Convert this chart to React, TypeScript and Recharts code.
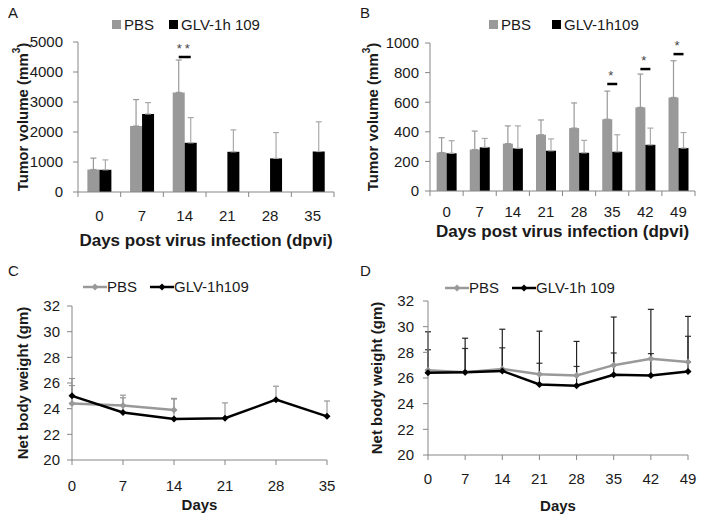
import React from 'react';
import { BarChart, Bar, LineChart, Line, XAxis, YAxis, ErrorBar, Legend, LabelList } from 'recharts';

const FONT = '"Liberation Sans", Arial, sans-serif';
const GRAY = '#999999';
const AXIS = '#868686';
const INK = '#1a1a1a';

// A: tumor volume, first cohort
const daysA = ['0', '7', '14', '21', '28', '35'];
const pbsA = [750, 2200, 3320, null, null, null];
const pbsASd = [380, 880, 1080, null, null, null];
const glvA = [740, 2600, 1640, 1340, 1120, 1350];
const glvASd = [330, 380, 840, 730, 860, 990];
const sigA = [null, null, 4500, null, null, null];

// B: tumor volume, second cohort
const daysB = ['0', '7', '14', '21', '28', '35', '42', '49'];
const pbsB = [260, 280, 320, 380, 425, 485, 565, 632];
const pbsBSd = [100, 125, 120, 100, 170, 190, 225, 248];
const glvB = [255, 295, 288, 272, 258, 265, 312, 290];
const glvBSd = [85, 60, 152, 80, 84, 115, 113, 105];
const sigB = [null, null, null, null, null, 723, 824, 925];

// C: body weight, first cohort
const daysC = [0, 7, 14, 21, 28, 35];
const pbsC = [24.4, 24.25, 23.9, null, null, null];
const pbsCSd = [1.95, 0.8, 0.9, null, null, null];
const glvC = [25.0, 23.7, 23.2, 23.25, 24.7, 23.4];
const glvCSd = [0.8, 1.15, 1.55, 1.2, 1.05, 1.2];

// D: body weight, second cohort
const daysD = [0, 7, 14, 21, 28, 35, 42, 49];
const pbsD = [26.6, 26.45, 26.7, 26.3, 26.2, 27.0, 27.5, 27.25];
const pbsDSd = [1.6, 1.85, 1.65, 0.85, 0.7, 0.95, 0.4, 2.0];
const glvD = [26.4, 26.45, 26.55, 25.5, 25.4, 26.25, 26.2, 26.5];
const glvDSd = [3.2, 2.65, 3.25, 4.15, 3.45, 4.5, 5.15, 4.3];

const upErr = (sd: number | null) => (sd == null ? null : [0, sd]);

const dataA = daysA.map((d, i) => ({ day: d, pbs: pbsA[i], glv: glvA[i], pbsErr: upErr(pbsASd[i]), glvErr: upErr(glvASd[i]) }));
const dataB = daysB.map((d, i) => ({ day: d, pbs: pbsB[i], glv: glvB[i], pbsErr: upErr(pbsBSd[i]), glvErr: upErr(glvBSd[i]) }));
const dataC = daysC.map((d, i) => ({ day: d, pbs: pbsC[i], glv: glvC[i], pbsErr: upErr(pbsCSd[i]), glvErr: upErr(glvCSd[i]) }));
const dataD = daysD.map((d, i) => ({ day: d, pbs: pbsD[i], glv: glvD[i], pbsErr: upErr(pbsDSd[i]), glvErr: upErr(glvDSd[i]) }));

const tickStyle = { fill: INK, fontSize: 15, fontFamily: FONT };
const W = 352;
const H = 258;

function PanelLetter({ letter }: { letter: string }) {
  return (
    <div style={{ position: 'absolute', left: 8, top: 4, fontFamily: FONT, fontSize: 15, color: INK }}>{letter}</div>
  );
}

function yTitle(text: string, x: number, sup?: string) {
  return (props: any) => {
    const vb = props.viewBox;
    const cy = vb.y + vb.height / 2;
    return (
      <text x={x} y={cy} transform={`rotate(-90 ${x} ${cy})`} textAnchor="middle" dominantBaseline="central"
        fontFamily={FONT} fontSize={15} fontWeight="bold" fill={INK}>
        {text}
        {sup ? <tspan dy={-6} fontSize={10}>{sup}</tspan> : null}
        {sup ? <tspan dy={6}>)</tspan> : null}
      </text>
    );
  };
}

function xTitle(text: string, y: number, size = 15) {
  return (props: any) => {
    const vb = props.viewBox;
    return (
      <text x={vb.x + vb.width / 2} y={y} textAnchor="middle" dominantBaseline="central"
        fontFamily={FONT} fontSize={size} fontWeight="bold" fill={INK}>{text}</text>
    );
  };
}

// Excel-style category ticks: label at the group centre, tick marks on the group edges
function groupTick(band: number, margin: number, count: number) {
  return (props: any) => {
    const { x, y, payload, index } = props;
    const axisY = y - margin;
    const half = band / 2;
    return (
      <g key={index}>
        <line x1={x - half} y1={axisY} x2={x - half} y2={axisY + 5} stroke={AXIS} />
        {index === count - 1 ? <line x1={x + half} y1={axisY} x2={x + half} y2={axisY + 5} stroke={AXIS} /> : null}
        <text x={x} y={y} dy="0.71em" textAnchor="middle" {...tickStyle}>{payload.value}</text>
      </g>
    );
  };
}

type Item = { name: string; color: string };

function legendContent(kind: 'box' | 'line', gap: number, items: Item[]) {
  return () => (
    <div style={{ display: 'flex', alignItems: 'center', whiteSpace: 'nowrap', fontFamily: FONT, fontSize: 15, color: INK }}>
      {items.map((p, i) => (
        <div key={i} style={{ display: 'flex', alignItems: 'center', marginLeft: i ? gap : 0 }}>
          {kind === 'box' ? (
            <svg width={9} height={9} style={{ marginRight: 3 }}><rect width={9} height={9} fill={p.color} /></svg>
          ) : (
            <svg width={24} height={10}>
              <line x1={0} y1={5} x2={24} y2={5} stroke={p.color} strokeWidth={2.5} />
              <polygon points="12,1.5 15.5,5 12,8.5 8.5,5" fill={p.color} />
            </svg>
          )}
          <span>{p.name}</span>
        </div>
      ))}
    </div>
  );
}

function sigMark(sig: (number | null)[], stars: string) {
  return (props: any) => {
    const { x, y, width, height, value, index } = props;
    const level = sig[index];
    if (level == null || !value) return null;
    const base = y + height;
    const ly = base - (level * height) / value;
    const x1 = x + width / 2;
    const x2 = x + width * 1.5;
    return (
      <g>
        <line x1={x1} y1={ly} x2={x2} y2={ly} stroke="#000" strokeWidth={2.5} />
        <text x={(x1 + x2) / 2} y={ly - 4} textAnchor="middle" fontFamily={FONT} fontSize={13} letterSpacing={3} fill="#444">{stars}</text>
      </g>
    );
  };
}

function diamond(color: string) {
  return (props: any) => {
    const { cx, cy, index } = props;
    if (cx == null || cy == null || Number.isNaN(cy)) return <g key={index} />;
    return <polygon key={index} points={`${cx},${cy - 3.5} ${cx + 3.5},${cy} ${cx},${cy + 3.5} ${cx - 3.5},${cy}`} fill={color} />;
  };
}

function PanelA() {
  const m = { top: 42, right: 18, bottom: 0, left: 0 };
  const band = (W - 78 - m.right) / daysA.length;
  return (
    <BarChart width={W} height={H} data={dataA} margin={m} barCategoryGap="22%" barGap={0}>
      <XAxis dataKey="day" height={66} axisLine={{ stroke: AXIS }} tickLine={false} tickSize={0} tickMargin={18}
        interval={0} tick={groupTick(band, 18, daysA.length)} label={xTitle('Days post virus infection (dpvi)', 240, 17)} />
      <YAxis domain={[0, 5000]} ticks={[0, 1000, 2000, 3000, 4000, 5000]} width={78} tickSize={5} tickMargin={10}
        axisLine={{ stroke: AXIS }} tickLine={{ stroke: AXIS }} tick={tickStyle} label={yTitle('Tumor volume (mm', 22, '3')} />
      <Legend verticalAlign="middle" align="center" wrapperStyle={{ left: 112, top: 16, width: 'auto' }}
        content={legendContent('box', 15, [{ name: 'PBS', color: GRAY }, { name: 'GLV-1h 109', color: '#000' }])} />
      <Bar dataKey="pbs" name="PBS" fill={GRAY} isAnimationActive={false}>
        <ErrorBar dataKey="pbsErr" width={3} stroke={GRAY} strokeWidth={1.2} direction="y" />
        <LabelList dataKey="pbs" content={sigMark(sigA, '**')} />
      </Bar>
      <Bar dataKey="glv" name="GLV-1h 109" fill="#000000" isAnimationActive={false}>
        <ErrorBar dataKey="glvErr" width={3} stroke="#aaaaaa" strokeWidth={1.2} direction="y" />
      </Bar>
    </BarChart>
  );
}

function PanelB() {
  const m = { top: 43, right: 9, bottom: 0, left: 0 };
  const band = (W - 78 - m.right) / daysB.length;
  return (
    <BarChart width={W} height={H} data={dataB} margin={m} barCategoryGap="20%" barGap={0}>
      <XAxis dataKey="day" height={67} axisLine={{ stroke: AXIS }} tickLine={false} tickSize={0} tickMargin={15}
        interval={0} tick={groupTick(band, 15, daysB.length)} label={xTitle('Days post virus infection (dpvi)', 231, 17)} />
      <YAxis domain={[0, 1000]} ticks={[0, 200, 400, 600, 800, 1000]} width={78} tickSize={5} tickMargin={6}
        axisLine={{ stroke: AXIS }} tickLine={{ stroke: AXIS }} tick={tickStyle} label={yTitle('Tumor volume (mm', 20, '3')} />
      <Legend verticalAlign="middle" align="center" wrapperStyle={{ left: 137, top: 16, width: 'auto' }}
        content={legendContent('box', 21, [{ name: 'PBS', color: GRAY }, { name: 'GLV-1h109', color: '#000' }])} />
      <Bar dataKey="pbs" name="PBS" fill={GRAY} isAnimationActive={false}>
        <ErrorBar dataKey="pbsErr" width={3} stroke={GRAY} strokeWidth={1.2} direction="y" />
        <LabelList dataKey="pbs" content={sigMark(sigB, '*')} />
      </Bar>
      <Bar dataKey="glv" name="GLV-1h109" fill="#000000" isAnimationActive={false}>
        <ErrorBar dataKey="glvErr" width={3} stroke="#aaaaaa" strokeWidth={1.2} direction="y" />
      </Bar>
    </BarChart>
  );
}

function PanelC() {
  return (
    <LineChart width={W} height={H} data={dataC} margin={{ top: 48, right: 25, bottom: 0, left: 0 }}>
      <XAxis dataKey="day" type="number" domain={[0, 35]} ticks={daysC} interval={0} height={56} tickSize={5} tickMargin={15}
        axisLine={{ stroke: AXIS }} tickLine={{ stroke: AXIS }} tick={tickStyle} label={xTitle('Days', 246)} />
      <YAxis domain={[20, 32]} ticks={[20, 22, 24, 26, 28, 30, 32]} width={72} tickSize={5} tickMargin={7}
        axisLine={{ stroke: AXIS }} tickLine={{ stroke: AXIS }} tick={tickStyle} label={yTitle('Net body weight (gm)', 22)} />
      <Legend verticalAlign="middle" align="center" wrapperStyle={{ left: 83, top: 20, width: 'auto' }}
        content={legendContent('line', 13, [{ name: 'PBS', color: GRAY }, { name: 'GLV-1h109', color: '#000' }])} />
      <Line dataKey="pbs" name="PBS" stroke={GRAY} strokeWidth={2.5} dot={diamond(GRAY)} isAnimationActive={false}>
        <ErrorBar dataKey="pbsErr" width={3} stroke={GRAY} strokeWidth={1.2} direction="y" />
      </Line>
      <Line dataKey="glv" name="GLV-1h109" stroke="#000000" strokeWidth={2.5} dot={diamond('#000000')} isAnimationActive={false}>
        <ErrorBar dataKey="glvErr" width={3} stroke={GRAY} strokeWidth={1.2} direction="y" />
      </Line>
    </LineChart>
  );
}

function PanelD() {
  return (
    <LineChart width={W} height={H} data={dataD} margin={{ top: 43, right: 16, bottom: 0, left: 0 }}>
      <XAxis dataKey="day" type="number" domain={[0, 49]} ticks={daysD} interval={0} height={61} tickSize={5} tickMargin={13}
        axisLine={{ stroke: AXIS }} tickLine={{ stroke: AXIS }} tick={tickStyle} label={xTitle('Days', 247)} />
      <YAxis domain={[20, 32]} ticks={[20, 22, 24, 26, 28, 30, 32]} width={76} tickSize={5} tickMargin={9}
        axisLine={{ stroke: AXIS }} tickLine={{ stroke: AXIS }} tick={tickStyle} label={yTitle('Net body weight (gm)', 24)} />
      <Legend verticalAlign="middle" align="center" wrapperStyle={{ left: 93, top: 21, width: 'auto' }}
        content={legendContent('line', 13, [{ name: 'PBS', color: GRAY }, { name: 'GLV-1h 109', color: '#000' }])} />
      <Line dataKey="pbs" name="PBS" stroke={GRAY} strokeWidth={2.5} dot={diamond(GRAY)} isAnimationActive={false}>
        <ErrorBar dataKey="pbsErr" width={3} stroke="#333333" strokeWidth={1.2} direction="y" />
      </Line>
      <Line dataKey="glv" name="GLV-1h 109" stroke="#000000" strokeWidth={2.5} dot={diamond('#000000')} isAnimationActive={false}>
        <ErrorBar dataKey="glvErr" width={3} stroke="#222222" strokeWidth={1.2} direction="y" />
      </Line>
    </LineChart>
  );
}

export default function App() {
  const cell = (left: number, top: number): React.CSSProperties => ({ position: 'absolute', left, top, width: W, height: H });
  return (
    <div style={{ position: 'absolute', left: 0, top: 0, width: 704, height: 516, background: '#fff' }}>
      <div style={cell(0, 0)}><PanelA /><PanelLetter letter="A" /></div>
      <div style={cell(352, 0)}><PanelB /><PanelLetter letter="B" /></div>
      <div style={cell(0, 258)}><PanelC /><PanelLetter letter="C" /></div>
      <div style={cell(352, 258)}><PanelD /><PanelLetter letter="D" /></div>
    </div>
  );
}
